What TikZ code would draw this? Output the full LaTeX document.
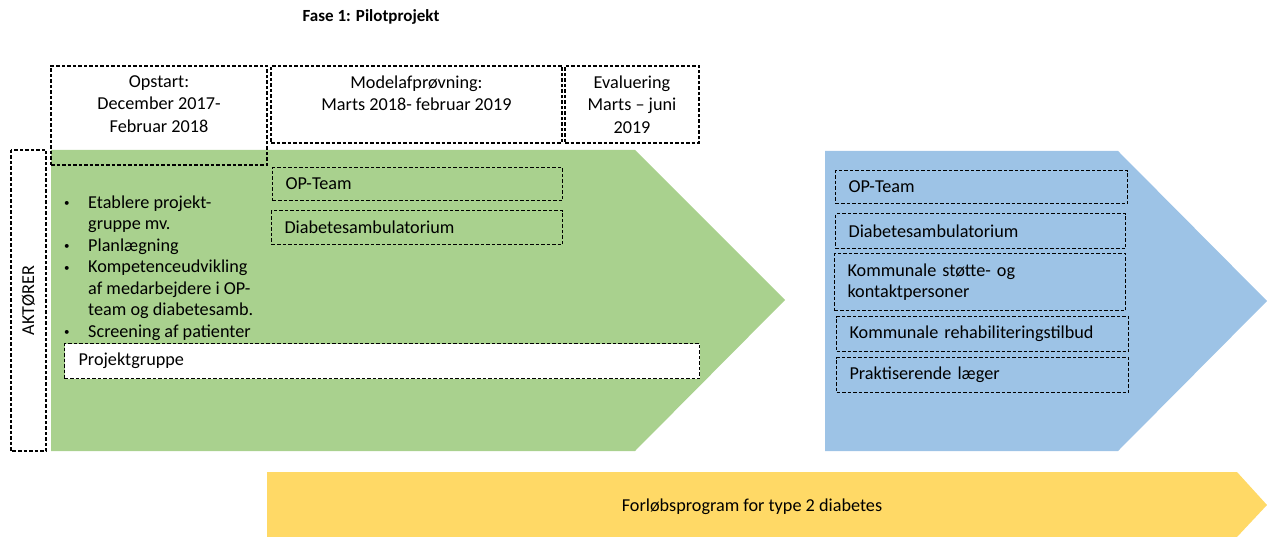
\documentclass[tikz,border=0pt]{standalone}
\usepackage{fontspec}
\setmainfont{Carlito}
\definecolor{fasegreen}{HTML}{A9D18E}
\definecolor{faseblue}{HTML}{9DC3E6}
\definecolor{faseyellow}{HTML}{FFD966}
\newcommand{\punkt}{\raisebox{1.5pt}{\fontsize{11}{11}\selectfont\textbullet}}
\tikzset{
  dbox/.style={draw, dash pattern=on 3.5pt off 2pt, line width=1.1pt, inner sep=0pt},
  actor/.style={dbox, anchor=north west, align=left, inner xsep=13pt, minimum height=34pt},
  periode/.style={anchor=north, align=center, inner sep=0pt, font=\fontsize{18.2}{22.5}\selectfont}
}
\begin{document}
\begin{tikzpicture}[x=1pt, y=-1pt, font=\fontsize{18.2}{21.5}\selectfont]
\useasboundingbox (0,0) rectangle (1267,537);
\fill[fasegreen] (51,150) -- (635,150) -- (785,300) -- (635,451) -- (51,451) -- cycle;
\fill[faseblue] (825,151) -- (1118,151) -- (1267,301) -- (1118,451) -- (825,451) -- cycle;
\fill[faseyellow] (267,472) -- (1237,472) -- (1267,505) -- (1237,537) -- (267,537) -- cycle;

\path (371,17) node[font=\fontsize{17}{20}\selectfont\bfseries] (fase) {Fase 1: Pilotprojekt};

\path (159,115.5) node[dbox, minimum width=216pt, minimum height=99pt] (opstart) {};
\path (416.5,104.5) node[dbox, minimum width=291pt, minimum height=77pt] (model) {};
\path (632,104.5) node[dbox, minimum width=134pt, minimum height=77pt] (evaluering) {};
\path (opstart.north) ++(0,10) node[periode] (opstarttxt) {Opstart:\\December 2017-\\Februar 2018};
\path (model.north) ++(0,10) node[periode] (modeltxt) {Modelafprøvning:\\Marts 2018- februar 2019};
\path (evaluering.north) ++(0,10) node[periode] (evalueringtxt) {Evaluering\\Marts -- juni\\2019};

\path (28.5,300.5) node[dbox, fill=white, rotate=90, minimum width=301pt, minimum height=35pt] (aktoerer) {AKTØRER};

\path (272,167) node[actor, text width=264pt, minimum height=33pt] (opgreen) {OP-Team};
\path (271,210) node[actor, text width=265pt] (diagreen) {Diabetesambulatorium};
\path (64,193) node[anchor=north west, inner sep=0pt] (opgaver) {\begin{tabular}{@{}p{24pt}@{}l@{}}
\punkt & Etablere projekt-\\
 & gruppe mv.\\
\punkt & Planlægning\\
\punkt & Kompetenceudvikling\\
 & af medarbejdere i OP-\\
 & team og diabetesamb.\\
\punkt & Screening af patienter
\end{tabular}};
\path (64,343) node[actor, fill=white, inner xsep=14pt, text width=607pt, minimum height=35pt] (projekt) {Projektgruppe};

\path (835,170) node[actor, text width=266pt, minimum height=33pt] (opblue) {OP-Team};
\path (835,213) node[actor, text width=264pt, minimum height=35pt] (diablue) {Diabetesambulatorium};
\path (834,253) node[actor, text width=265pt, minimum height=57pt] (kontakt) {Kommunale støtte- og\\kontaktpersoner};
\path (836,316) node[actor, text width=266pt, minimum height=35pt] (rehab) {Kommunale rehabiliteringstilbud};
\path (836,357) node[actor, text width=266pt, minimum height=35pt] (laeger) {Praktiserende læger};

\path (752,507) node (forloeb) {Forløbsprogram for type 2 diabetes};
\end{tikzpicture}
\end{document}
